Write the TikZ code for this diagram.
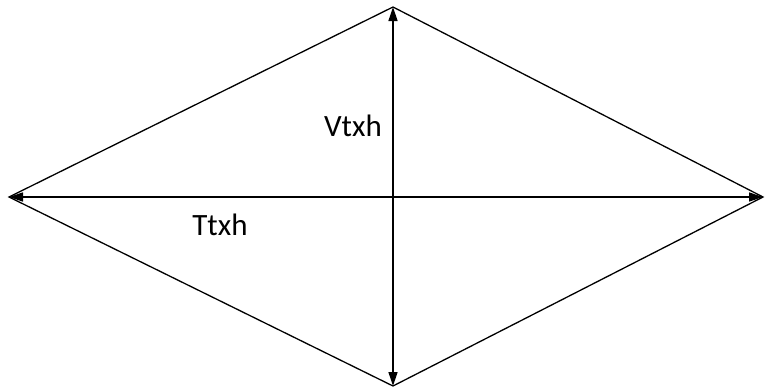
\documentclass[tikz,border=0pt]{standalone}
\usepackage{fontspec}
\setmainfont{Carlito}
\usetikzlibrary{arrows.meta}
\usetikzlibrary{positioning}

\tikzset{
  rhomb/.style={line width=1.3pt, line join=miter},
  measure/.style={{Triangle[length=14pt,width=9pt]}-{Triangle[length=14pt,width=9pt]}, line width=1.3pt},
  lbl/.style={inner sep=0pt, font=\fontsize{31}{36}\selectfont}
}

\begin{document}
\begin{tikzpicture}[x=1pt,y=-1pt]
    \useasboundingbox (0,0) rectangle (765,391);

    \coordinate (top) at (393,7);
    \coordinate (bottom) at (393,386);
    \coordinate (left) at (9,197);
    \coordinate (right) at (763,197);

    \draw[rhomb] (left) -- (top) -- (right) -- (bottom) -- cycle;

    \draw[measure] (left) -- (right);
    \draw[measure] (top) -- (bottom);

    \node[lbl] (vtxh) at (353,126) {Vtxh};
    \node[lbl] (ttxh) at (220,225) {Ttxh};

  \end{tikzpicture}
\end{document}
